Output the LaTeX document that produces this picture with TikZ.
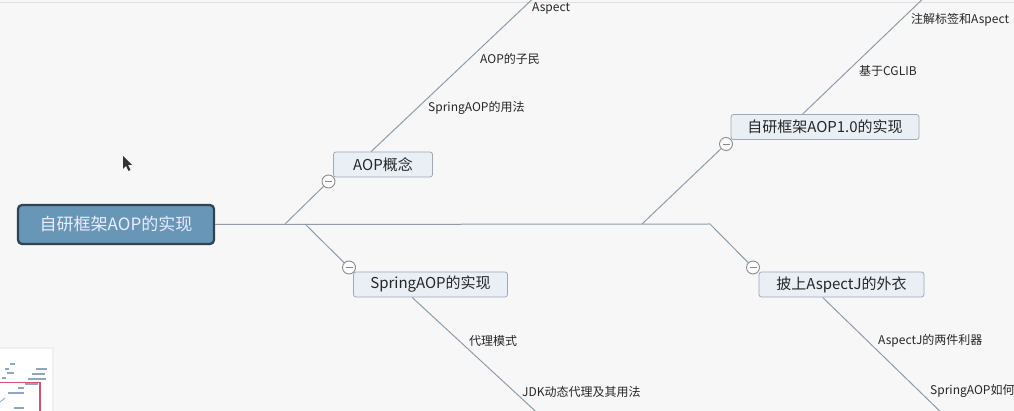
\documentclass[tikz,border=0pt]{standalone}
\usepackage{fontspec}
\setmainfont{Noto Sans CJK SC}
\begin{document}
\begin{tikzpicture}[x=1pt,y=-1pt,
  conn/.style={draw=linegray, line width=1pt},
  topic/.style={draw=nodeborder, fill=nodefill, rounded corners=2.5pt, line width=0.8pt, inner sep=0pt, font=\fontsize{15}{18}\selectfont, text=black!85},
  roottopic/.style={draw=rootborder, fill=rootfill, rounded corners=4pt, line width=2.2pt, inner sep=0pt, font=\fontsize{17}{20}\selectfont, text=white!92!blue},
  sub/.style={anchor=west, inner sep=0pt, font=\fontsize{12}{14}\selectfont, text=black!85},
  fold/.style={circle, draw=foldgray, fill=white, line width=0.9pt, minimum size=13pt, inner sep=0pt},
  mini/.style={draw=miniblue, line width=1.6pt}]
\definecolor{bg}{HTML}{F7F7F8}
\definecolor{linegray}{HTML}{8F9CAA}
\definecolor{nodeborder}{HTML}{9CAAB8}
\definecolor{nodefill}{HTML}{E9EFF5}
\definecolor{rootfill}{HTML}{6896B6}
\definecolor{rootborder}{HTML}{2E4353}
\definecolor{foldgray}{HTML}{8C8C8C}
\definecolor{miniblue}{HTML}{8FA6BE}
\definecolor{minired}{HTML}{D9506A}
\useasboundingbox (0,0) rectangle (1014,411);
\fill[bg] (0,0) rectangle (1014,411);
\draw[black!12, line width=0.8pt] (0,2.5) -- (1014,2.5);

% root
\node[roottopic, minimum width=196pt, minimum height=39pt] (root) at (116,224.5) {自研框架AOP的实现};

% junction coordinates
\coordinate (j1) at (285,224);
\coordinate (j2) at (305,224);
\coordinate (j3) at (642,224);
\coordinate (j4) at (710,224);

\draw[conn] (root.east) -- (j4);

% level-1 topics
\node[topic, minimum width=99pt, minimum height=25pt] (aop) at (383,164.5) {AOP概念};
\node[topic, minimum width=154pt, minimum height=25pt] (spring) at (430.5,284.5) {SpringAOP的实现};
\node[topic, minimum width=188pt, minimum height=25pt] (self) at (825,127) {自研框架AOP1.0的实现};
\node[topic, minimum width=165pt, minimum height=25pt] (aspectj) at (841.5,284.5) {披上AspectJ的外衣};

% fold circles
\node[fold] (f1) at (328.5,181.5) {};
\node[fold] (f2) at (349,267.5) {};
\node[fold] (f3) at (726,144) {};
\node[fold] (f4) at (753,267.5) {};
\foreach \f in {f1,f2,f3,f4}{\draw[foldgray, line width=0.9pt] ([xshift=-3.5pt]\f.center) -- ([xshift=3.5pt]\f.center);}

\draw[conn] (j1) -- (f1);
\draw[conn] (j2) -- (f2);
\draw[conn] (j3) -- (f3);
\draw[conn] (j4) -- (f4);

% sub-branch lines
\coordinate (e1) at (540,-8);
\coordinate (e2) at (930,-8);
\coordinate (e3) at (545,420);
\coordinate (e4) at (949,420);
\draw[conn] (aop.north west) ++(38,0) coordinate (s1) -- (e1);
\draw[conn] (self.north west) ++(72,0) coordinate (s2) -- (e2);
\draw[conn] (spring.south west) ++(59,0) coordinate (s3) -- (e3);
\draw[conn] (aspectj.south west) ++(64,0) coordinate (s4) -- (e4);

% sub-topic labels
\node[sub] (a1) at (428,108) {SpringAOP的用法};
\node[sub] (a2) at (480,59) {AOP的子民};
\node[sub] (a3) at (532,8) {Aspect};
\node[sub] (b1) at (859,71) {基于CGLIB};
\node[sub] (b2) at (911,20) {注解标签和Aspect};
\node[sub] (c1) at (469,341) {代理模式};
\node[sub] (c2) at (522,392) {JDK动态代理及其用法};
\node[sub] (d1) at (878,341) {AspectJ的两件利器};
\node[sub] (d2) at (930,391) {SpringAOP如何};

% mouse cursor
\fill[black!80] (123,156) -- (123,169) -- (126,166) -- (128.5,171) -- (130.5,170) -- (128,165) -- (132,165) -- cycle;

% minimap
\fill[black!6] (0,347) rectangle (54,411);
\fill[white] (0,349) rectangle (52,411);
\draw[mini] (7,373) -- (14,373);
\draw[mini] (2,378) -- (6,378);
\draw[mini] (5,369) -- (9,369);
\draw[mini] (10,364) -- (15,364);
\draw[mini] (36,369) -- (47,369);
\draw[mini] (32,374) -- (45,374);
\draw[mini] (28,379) -- (46,379);
\draw[mini] (25,384) -- (38,384);
\draw[mini] (18,388) -- (24,388);
\draw[mini] (8,393) -- (24,393);
\draw[mini] (14,408) -- (24,408);
\draw[mini, line width=0.8pt] (0,402) -- (5,398);
\draw[minired, line width=1.2pt] (0,382.5) -- (40,382.5) -- (40,411);
\end{tikzpicture}
\end{document}
